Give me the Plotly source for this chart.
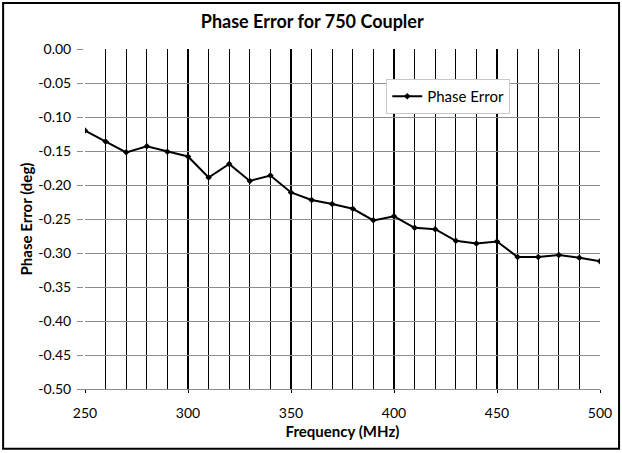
import plotly.graph_objs as go

freq_mhz = [250, 260, 270, 280, 290, 300, 310, 320, 330, 340, 350, 360, 370,
            380, 390, 400, 410, 420, 430, 440, 450, 460, 470, 480, 490, 500]
phase_err = [-0.120, -0.136, -0.152, -0.143, -0.151, -0.158, -0.189, -0.169,
             -0.194, -0.186, -0.211, -0.222, -0.228, -0.235, -0.252, -0.246,
             -0.263, -0.265, -0.282, -0.286, -0.283, -0.306, -0.306, -0.303,
             -0.307, -0.312]

y_ticks = [0.0, -0.05, -0.10, -0.15, -0.20, -0.25, -0.30, -0.35, -0.40, -0.45, -0.50]
y_labels = ["0.00", "-0.05", "-0.10", "-0.15", "-0.20", "-0.25",
            "-0.30", "-0.35", "-0.40", "-0.45", "-0.50"]

fnt = "Lato, 'Open Sans', sans-serif"

fig = go.Figure()
fig.add_trace(go.Scatter(
    x=freq_mhz, y=phase_err,
    mode='lines+markers',
    name='Phase Error',
    line=dict(color='black', width=2),
    marker=dict(color='black', size=5, symbol='diamond')
))

fig.update_layout(
    width=622, height=453,
    margin=dict(l=85, r=22, t=49, b=64, autoexpand=False),
    paper_bgcolor='white', plot_bgcolor='white',
    font=dict(family=fnt, size=14, color='black'),
    title=dict(text='<b>Phase Error for 750 Coupler</b>', x=0.502, xref='container',
               xanchor='center', y=0.953, yanchor='middle', font=dict(size=18),
               automargin=False),
    showlegend=True,
    legend=dict(x=0.585, y=0.912, xanchor='left', yanchor='top',
                bgcolor='white', bordercolor='#c8c8c8', borderwidth=1,
                font=dict(size=15), itemwidth=30),
)

fig.update_xaxes(
    range=[250, 500], tickmode='linear', tick0=250, dtick=50,
    showgrid=True, gridcolor='black', gridwidth=1.5,
    minor=dict(dtick=10, showgrid=True, gridcolor='black', gridwidth=1),
    showline=True, linecolor='#8c8c8c', linewidth=1,
    ticks='outside', ticklen=3, tickcolor='black', ticklabelstandoff=8,
    tickfont=dict(size=14), automargin=False,
    title=dict(text='<b>Frequency (MHz)</b>', font=dict(size=15), standoff=6),
    zeroline=False
)
fig.update_yaxes(
    range=[-0.5, 0.0], tickvals=y_ticks, ticktext=y_labels,
    showgrid=True, gridcolor='#8c8c8c', gridwidth=1,
    showline=True, linecolor='white', linewidth=2,
    ticks='outside', ticklen=6, tickcolor='#8c8c8c', ticklabelstandoff=3,
    tickfont=dict(size=14), automargin=False,
    title=dict(text='<b>Phase Error (deg)</b>', font=dict(size=15), standoff=2),
    zeroline=False
)

# outer chart frame
fig.add_shape(type='rect', xref='paper', yref='paper',
              x0=-0.159, x1=1.037, y0=-0.176, y1=1.135,
              line=dict(color='black', width=2), layer='above')

# page body has a default 8px margin, drop it so the chart sits at (0,0)
fig.write_html("out.html", config={'displayModeBar': False},
               post_script="document.body.style.margin='0';")
